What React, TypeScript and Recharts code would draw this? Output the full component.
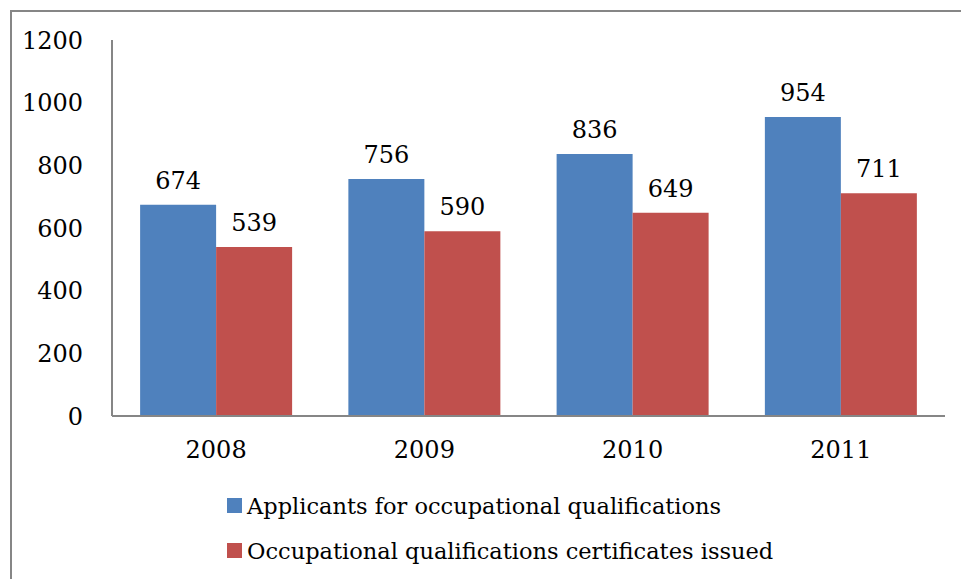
import { BarChart, Bar, XAxis, YAxis, Legend, LabelList } from "recharts";

const years = ["2008", "2009", "2010", "2011"];
const applicants = [674, 756, 836, 954];
const certificates = [539, 590, 649, 711];
const yTicks = [0, 200, 400, 600, 800, 1000, 1200];

const APPLICANTS_LABEL = "Applicants for occupational qualifications";
const CERTIFICATES_LABEL = "Occupational qualifications certificates issued";

const data = years.map((year, i) => ({
  year,
  applicants: applicants[i],
  certificates: certificates[i],
}));

const serif = "'DejaVu Serif', serif";
const axisGray = "#868686";

// two stacked legend rows with square swatches
function LegendRows({ payload }: { payload?: any[] }) {
  return (
    <div style={{ fontFamily: serif, fontSize: 22.5, color: "#000" }}>
      {(payload ?? []).map((entry) => (
        <div key={entry.value} style={{ display: "flex", alignItems: "center", height: 45 }}>
          <span style={{ width: 15, height: 15, background: entry.color, marginRight: 5 }} />
          <span>{entry.value}</span>
        </div>
      ))}
    </div>
  );
}

export default function App() {
  return (
    <div
      style={{
        position: "absolute",
        left: 0,
        top: 0,
        width: 961,
        height: 579,
        background: "#fff",
        overflow: "hidden",
      }}
    >
      <div
        style={{
          position: "absolute",
          left: 10,
          top: 10,
          width: 980,
          height: 600,
          borderTop: `2px solid ${axisGray}`,
          borderLeft: `2px solid ${axisGray}`,
        }}
      />
      <BarChart
        width={961}
        height={579}
        data={data}
        margin={{ top: 40, right: 16, left: 12, bottom: 133 }}
        barCategoryGap="13.5%"
        barGap={0}
        style={{ position: "absolute", left: 0, top: 0 }}
      >
        <XAxis
          dataKey="year"
          axisLine={{ stroke: axisGray, strokeWidth: 2 }}
          tickLine={false}
          tickMargin={19}
          tick={{ fontFamily: serif, fontSize: 24, fill: "#000" }}
        />
        <YAxis
          domain={[0, 1200]}
          ticks={yTicks}
          width={100}
          axisLine={{ stroke: axisGray, strokeWidth: 2 }}
          tickLine={false}
          tickMargin={23}
          tick={{ fontFamily: serif, fontSize: 24, fill: "#000" }}
        />
        <Legend
          layout="vertical"
          align="center"
          verticalAlign="middle"
          wrapperStyle={{ top: 483, left: 227, width: "auto" }}
          content={<LegendRows />}
        />
        <Bar dataKey="applicants" name={APPLICANTS_LABEL} fill="#4F81BD" isAnimationActive={false}>
          <LabelList dataKey="applicants" position="top" offset={16} style={{ fontFamily: serif, fontSize: 24, fill: "#000" }} />
        </Bar>
        <Bar dataKey="certificates" name={CERTIFICATES_LABEL} fill="#C0504D" isAnimationActive={false}>
          <LabelList dataKey="certificates" position="top" offset={16} style={{ fontFamily: serif, fontSize: 24, fill: "#000" }} />
        </Bar>
      </BarChart>
    </div>
  );
}
